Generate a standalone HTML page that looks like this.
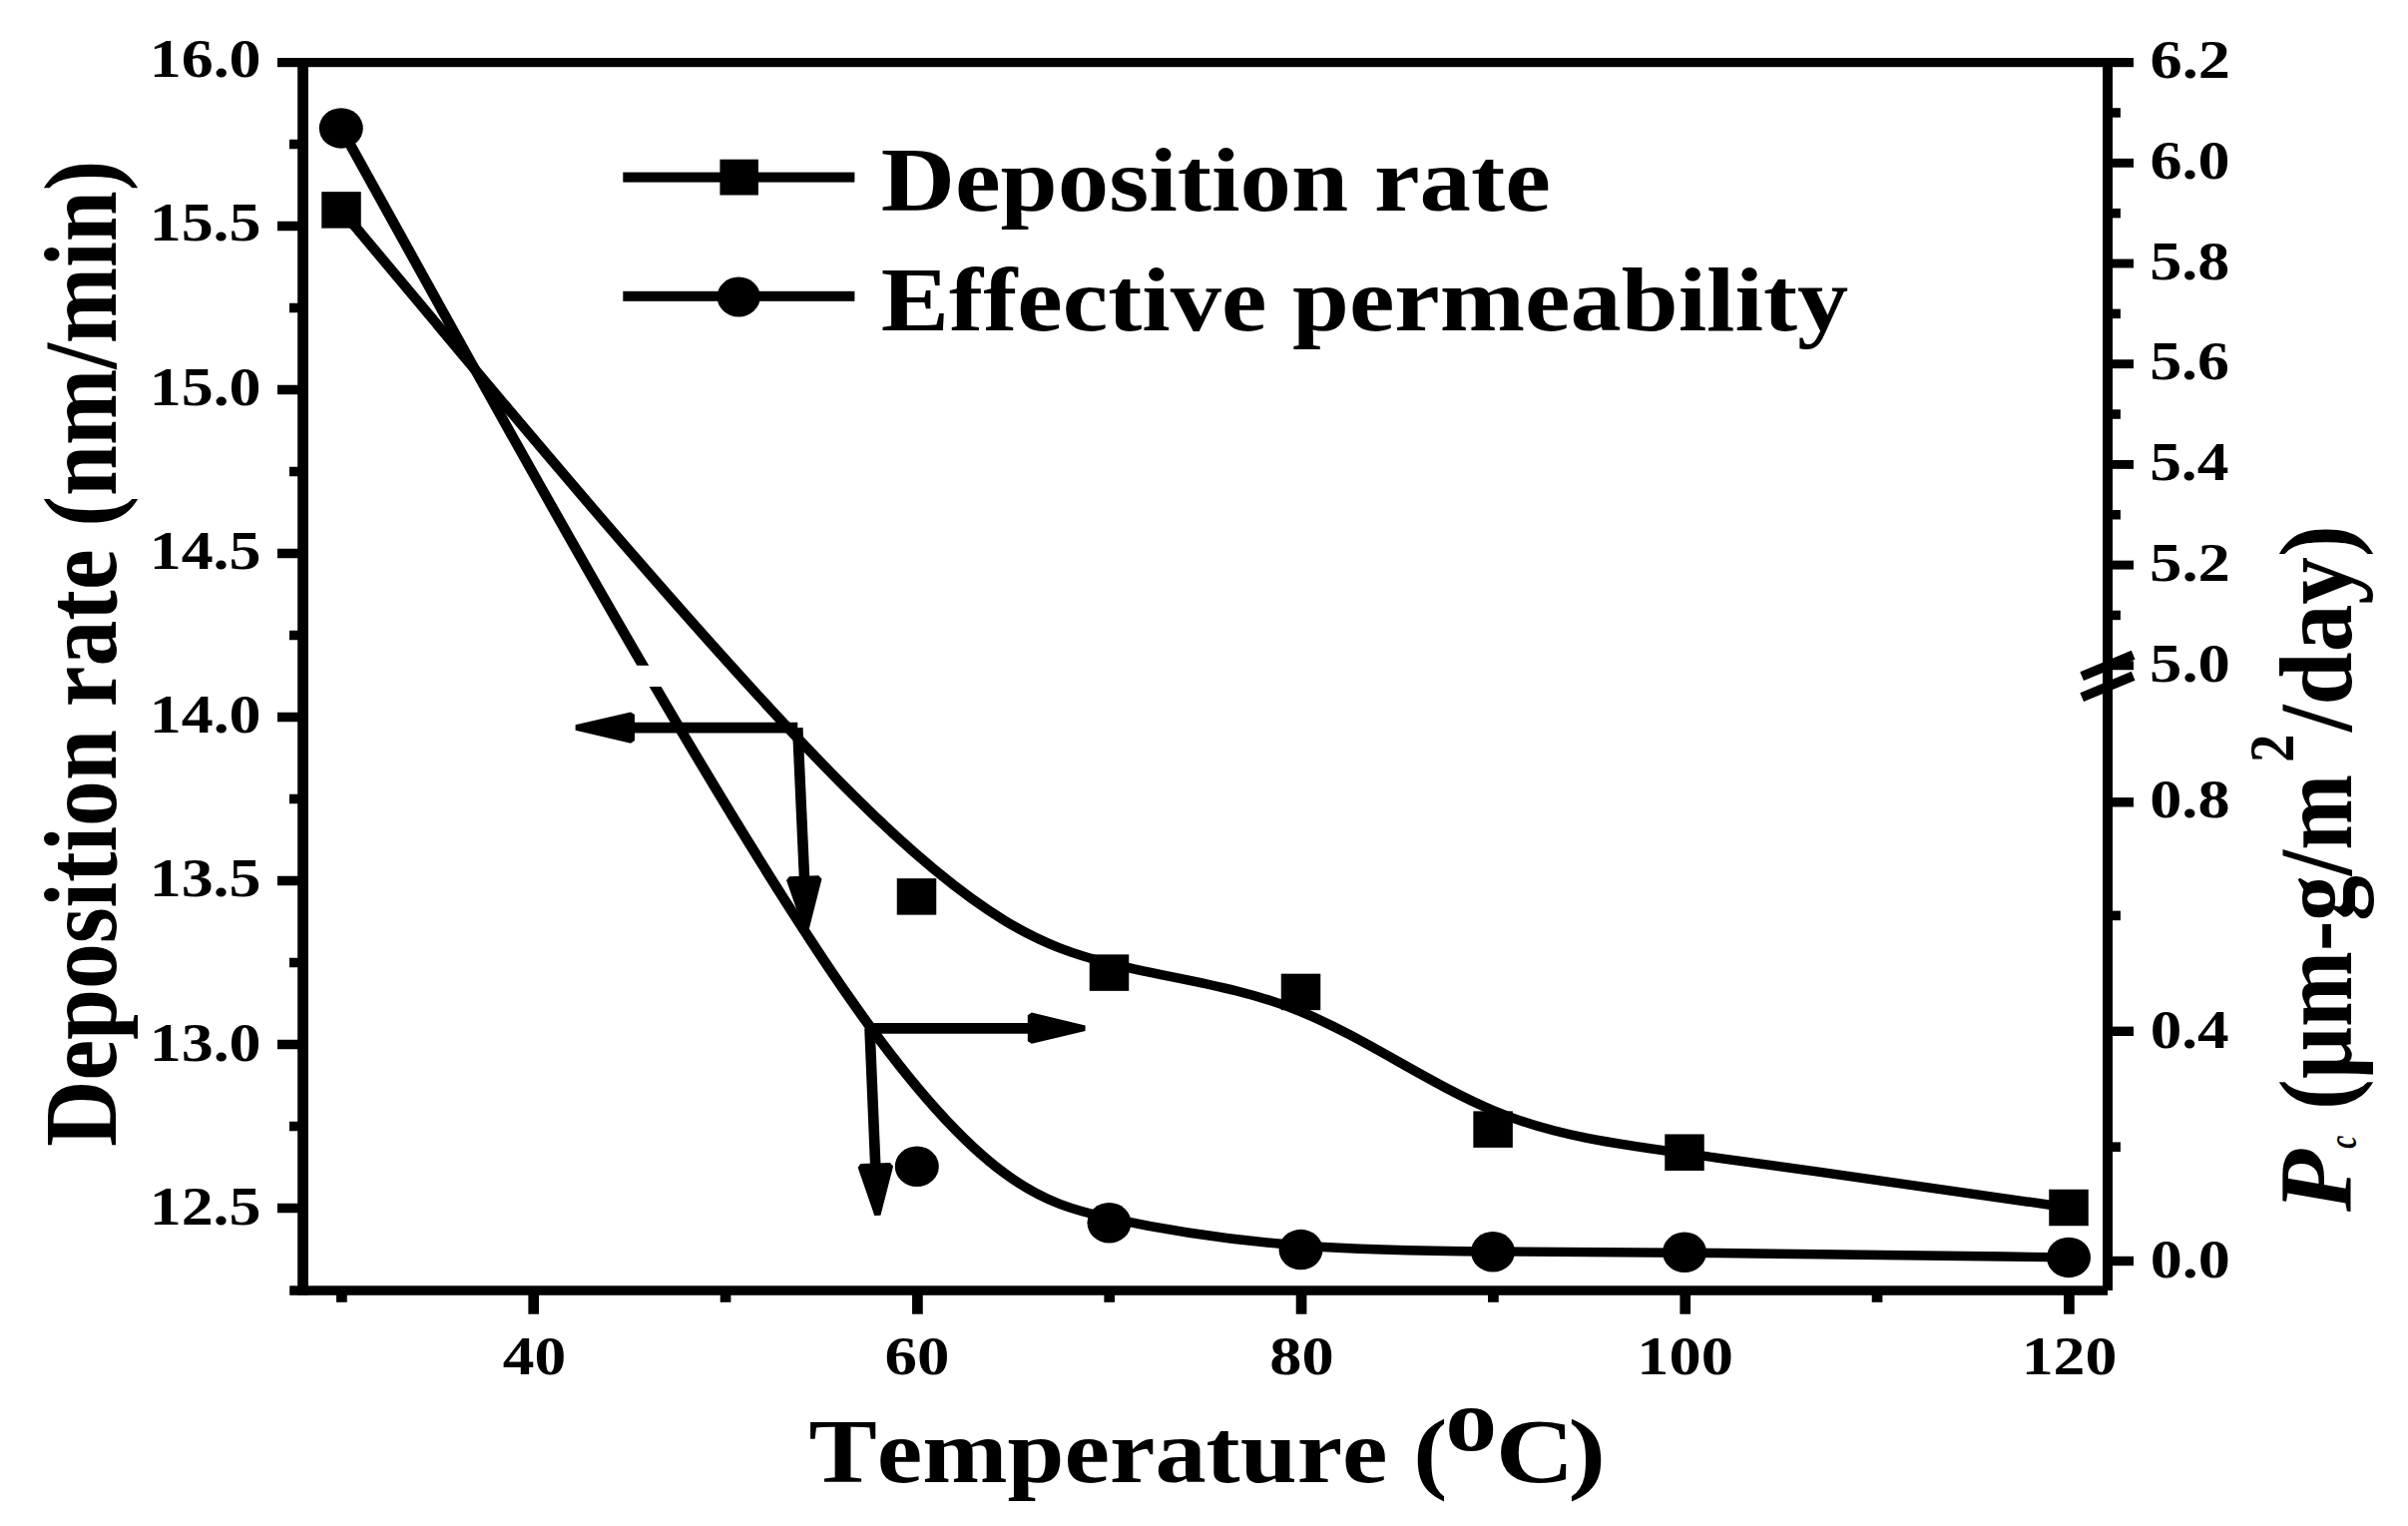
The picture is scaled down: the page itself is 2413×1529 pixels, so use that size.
<!DOCTYPE html>
<html lang="en"><head><meta charset="utf-8"><title>Deposition rate and effective permeability vs temperature</title>
<style>html,body{margin:0;padding:0;background:#fff}body{width:2413px;height:1529px;overflow:hidden}svg{display:block}text{font-family:"Liberation Serif","DejaVu Serif",serif;font-kerning:none;fill:#000;white-space:pre}</style></head><body>
<svg width="2413" height="1529" viewBox="0 0 2413 1529">
<rect width="2413" height="1529" fill="#fff"/>
<g transform="scale(1.134 1)" fill="none" stroke="#000" stroke-width="9.4" stroke-linecap="butt" stroke-linejoin="round">
<path d="M301.59 210.4C301.59 210.4 301.59 210.4 386.32 325.07C471.05 439.73 640.51 669.07 753.6 796.43C866.7 923.8 923.43 949.2 980.01 965.12C1036.6 981.03 1093.03 987.47 1149.56 1013.63C1206.08 1039.8 1262.7 1085.7 1319.21 1112.5C1375.72 1139.3 1432.13 1147 1516.92 1160.07C1601.7 1173.13 1714.87 1191.57 1771.46 1200.78C1828.04 1210 1828.04 1210 1828.04 1210"/>
<path d="M301.41 128.4C301.41 128.4 301.41 128.4 386.21 301.8C471.02 475.2 640.62 822 753.75 1004.82C866.87 1187.63 923.52 1206.47 980.06 1220.35C1036.6 1234.23 1093.03 1243.17 1149.54 1247.98C1206.06 1252.8 1262.64 1253.5 1319.15 1253.95C1375.66 1254.4 1432.1 1254.6 1516.9 1255.55C1601.7 1256.5 1714.87 1258.2 1771.46 1259.05C1828.04 1259.9 1828.04 1259.9 1828.04 1259.9"/>
</g>
<rect x="628" y="666.8" width="46" height="21.2" fill="#fff"/>
<g>
<rect x="322.25" y="192.15" width="39.5" height="36.5"/>
<rect x="898.75" y="880.15" width="39.5" height="36.5"/>
<rect x="1091.75" y="956.35" width="39.5" height="36.5"/>
<rect x="1283.75" y="975.65" width="39.5" height="36.5"/>
<rect x="1476.35" y="1113.35" width="39.5" height="36.5"/>
<rect x="1668.25" y="1136.45" width="39.5" height="36.5"/>
<rect x="2053.25" y="1191.75" width="39.5" height="36.5"/>
<ellipse cx="341.8" cy="128.4" rx="22" ry="20.25"/>
<ellipse cx="918.8" cy="1168.8" rx="22" ry="20.25"/>
<ellipse cx="1111.5" cy="1225.3" rx="22" ry="20.25"/>
<ellipse cx="1303.5" cy="1252.1" rx="22" ry="20.25"/>
<ellipse cx="1496" cy="1254.2" rx="22" ry="20.25"/>
<ellipse cx="1688" cy="1254.8" rx="22" ry="20.25"/>
<ellipse cx="2073" cy="1259.9" rx="22" ry="20.25"/>
</g>
<g>
<rect x="298.2" y="58" width="10.7" height="1239.8"/>
<rect x="2107" y="58" width="10" height="1235.05"/>
<rect x="278" y="58" width="1860" height="9.2"/>
<rect x="290.2" y="1288.3" width="1821.8" height="9.5"/>
<rect x="290" y="139.75" width="9.2" height="9.5"/>
<rect x="278" y="221.75" width="21.2" height="9.5"/>
<rect x="290" y="303.75" width="9.2" height="9.5"/>
<rect x="278" y="385.75" width="21.2" height="9.5"/>
<rect x="290" y="467.75" width="9.2" height="9.5"/>
<rect x="278" y="549.75" width="21.2" height="9.5"/>
<rect x="290" y="631.75" width="9.2" height="9.5"/>
<rect x="278" y="713.75" width="21.2" height="9.5"/>
<rect x="290" y="795.75" width="9.2" height="9.5"/>
<rect x="278" y="877.75" width="21.2" height="9.5"/>
<rect x="290" y="959.75" width="9.2" height="9.5"/>
<rect x="278" y="1041.75" width="21.2" height="9.5"/>
<rect x="290" y="1123.75" width="9.2" height="9.5"/>
<rect x="278" y="1205.75" width="21.2" height="9.5"/>
<rect x="2116" y="108.2" width="8.9" height="9.5"/>
<rect x="2116" y="158.85" width="22" height="8.9"/>
<rect x="2116" y="208.9" width="8.9" height="9.5"/>
<rect x="2116" y="259.55" width="22" height="8.9"/>
<rect x="2116" y="309.6" width="8.9" height="9.5"/>
<rect x="2116" y="360.25" width="22" height="8.9"/>
<rect x="2116" y="410.3" width="8.9" height="9.5"/>
<rect x="2116" y="460.95" width="22" height="8.9"/>
<rect x="2116" y="511" width="8.9" height="9.5"/>
<rect x="2116" y="561.65" width="22" height="8.9"/>
<rect x="2116" y="611.7" width="8.9" height="9.5"/>
<rect x="2116" y="662.35" width="22" height="8.9"/>
<rect x="2116" y="799.1" width="22" height="9.4"/>
<rect x="2116" y="1028.6" width="22" height="9.4"/>
<rect x="2116" y="1258.8" width="22" height="9.4"/>
<rect x="2116" y="912.6" width="8.9" height="9.6"/>
<rect x="2116" y="1144.4" width="8.9" height="9.6"/>
<rect x="529.38" y="1296.8" width="10.7" height="19.9"/>
<rect x="914.05" y="1296.8" width="10.7" height="19.9"/>
<rect x="1298.72" y="1296.8" width="10.7" height="19.9"/>
<rect x="1683.38" y="1296.8" width="10.7" height="19.9"/>
<rect x="2068.05" y="1296.8" width="10.7" height="19.9"/>
<rect x="337.05" y="1296.8" width="10.7" height="8"/>
<rect x="721.72" y="1296.8" width="10.7" height="8"/>
<rect x="1106.38" y="1296.8" width="10.7" height="8"/>
<rect x="1491.05" y="1296.8" width="10.7" height="8"/>
<rect x="1875.71" y="1296.8" width="10.7" height="8"/>
</g>
<g stroke="#000" stroke-width="9.6" stroke-linecap="butt">
<line x1="2086.2" y1="677.6" x2="2137.65" y2="656.3"/>
<line x1="2086.2" y1="698.6" x2="2137.65" y2="677.3"/>
</g>
<g fill="none" stroke="#000" stroke-width="10.6" stroke-linecap="butt">
<path d="M634 729.15H799.3"/><path d="M799.3 729.15L806.1 881"/>
<path d="M1032 1030.4H871.5"/><path d="M871.5 1030.4L877.3 1169"/>
</g>
<g transform="scale(1.134 1)" fill="#000" stroke="#000" stroke-width="5.6" stroke-linejoin="bevel">
<path d="M509.2 729.05L558.05 716.1L558.05 742Z"/>
<path d="M712.44 929.41L697.58 881.11L723.46 880.09Z"/>
<path d="M958.31 1030.2L910.91 1043.15L910.91 1017.25Z"/>
<path d="M775.45 1217.21L760.71 1168.88L786.59 1167.92Z"/>
</g>
<rect x="624.3" y="172.6" width="232.1" height="10"/>
<rect x="721.4" y="159.7" width="38.5" height="35.8"/>
<rect x="624.3" y="291.8" width="232.1" height="10"/>
<ellipse cx="740.2" cy="297.5" rx="21.7" ry="19.9"/>
<text transform="translate(882.69 210.7) scale(1.1339 1)" font-size="90.7" style="font-weight:bold">Deposition rate</text>
<text transform="translate(882.75 331.1) scale(1.1291 1)" font-size="90.7" style="font-weight:bold">Effective permeability</text>
<text transform="translate(149.68 77.05) scale(1.1739 1)" font-size="54.5" style="font-weight:bold">16.0</text>
<text transform="translate(149.68 241.29) scale(1.1728 1)" font-size="54.5" style="font-weight:bold">15.5</text>
<text transform="translate(149.68 405.54) scale(1.1739 1)" font-size="54.5" style="font-weight:bold">15.0</text>
<text transform="translate(149.68 569.78) scale(1.1728 1)" font-size="54.5" style="font-weight:bold">14.5</text>
<text transform="translate(149.68 734.02) scale(1.1739 1)" font-size="54.5" style="font-weight:bold">14.0</text>
<text transform="translate(149.68 898.26) scale(1.1728 1)" font-size="54.5" style="font-weight:bold">13.5</text>
<text transform="translate(149.68 1062.51) scale(1.1739 1)" font-size="54.5" style="font-weight:bold">13.0</text>
<text transform="translate(149.68 1226.75) scale(1.1728 1)" font-size="54.5" style="font-weight:bold">12.5</text>
<text transform="translate(2154.5 78.2) scale(1.1704 1)" font-size="55" style="font-weight:bold">6.2</text>
<text transform="translate(2154.51 178.9) scale(1.1656 1)" font-size="55" style="font-weight:bold">6.0</text>
<text transform="translate(2154.13 279.6) scale(1.1665 1)" font-size="55" style="font-weight:bold">5.8</text>
<text transform="translate(2154.14 380.3) scale(1.1627 1)" font-size="55" style="font-weight:bold">5.6</text>
<text transform="translate(2154.16 481) scale(1.1522 1)" font-size="55" style="font-weight:bold">5.4</text>
<text transform="translate(2154.11 581.7) scale(1.1763 1)" font-size="55" style="font-weight:bold">5.2</text>
<text transform="translate(2154.11 682.6) scale(1.1745 1)" font-size="55" style="font-weight:bold">5.0</text>
<text transform="translate(2154.25 818.8) scale(1.1677 1)" font-size="55" style="font-weight:bold">0.8</text>
<text transform="translate(2154.7 1050.1) scale(1.1473 1)" font-size="55" style="font-weight:bold">0.4</text>
<text transform="translate(2154.66 1280.2) scale(1.1663 1)" font-size="55" style="font-weight:bold">0.0</text>
<text transform="translate(503.83 1376.5) scale(1.1649 1)" font-size="54.5" style="font-weight:bold">40</text>
<text transform="translate(886.48 1376.5) scale(1.1906 1)" font-size="54.5" style="font-weight:bold">60</text>
<text transform="translate(1272.26 1376.5) scale(1.1815 1)" font-size="54.5" style="font-weight:bold">80</text>
<text transform="translate(1640.24 1376.5) scale(1.1818 1)" font-size="54.5" style="font-weight:bold">100</text>
<text transform="translate(2025.69 1376.5) scale(1.1712 1)" font-size="54.5" style="font-weight:bold">120</text>
<text transform="translate(810.5 1484.6) scale(1.1330 1)" font-size="90.4" style="font-weight:bold">Temperature (</text>
<text transform="translate(1448.15 1453) scale(1.1587 1)" font-size="89.6" style="font-weight:bold">o</text>
<text transform="translate(1498.67 1484.9) scale(1.2078 1)" font-size="90.4" style="font-weight:bold">C</text>
<text transform="translate(1571.22 1484.6) scale(1.2620 1)" font-size="90.4" style="font-weight:bold">)</text>
<text transform="translate(115.9 1148.81) rotate(-90) scale(0.8774 1)" font-size="104.5" style="font-weight:bold">Deposition rate (nm/min)</text>
<text transform="translate(2355.5 1213.95) rotate(-90) scale(0.9714 1)" font-size="104.5" style="font-weight:bold;font-style:italic">P</text>
<text transform="translate(2360.7 1150.63) rotate(-90) scale(0.7546 1)" font-size="39" style="font-weight:bold;font-style:italic">c</text>
<text transform="translate(2355.5 1111.7) rotate(-90) scale(0.8717 1)" font-size="104.5" style="font-weight:bold">(µm-g/m</text>
<text transform="translate(2297.9 764.08) rotate(-90) scale(0.8847 1)" font-size="64" style="font-weight:bold">2</text>
<text transform="translate(2355.5 732.97) rotate(-90) scale(0.9135 1)" font-size="104.5" style="font-weight:bold">/day)</text>
</svg></body></html>
